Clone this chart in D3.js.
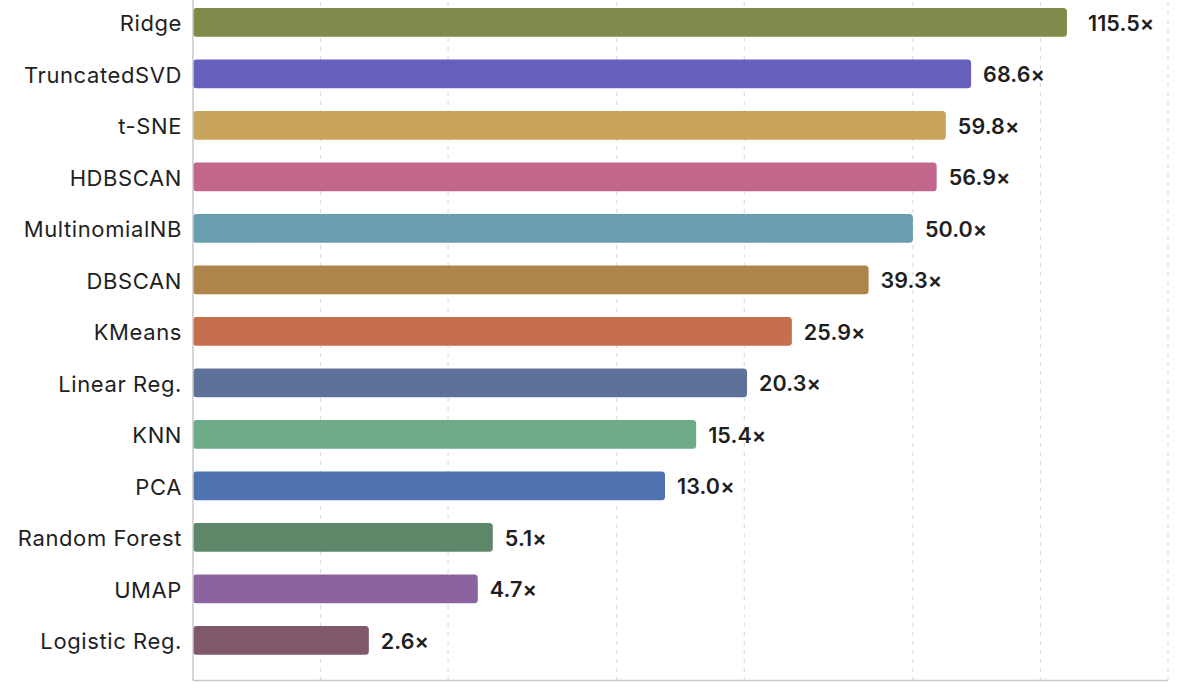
<!DOCTYPE html>
<html><head><meta charset="utf-8">
<script src="https://cdn.jsdelivr.net/npm/d3@7"></script>
<style>body{margin:0;background:#fff}svg{display:block}text{font-family:Inter,"Noto Sans",sans-serif}</style>
</head><body><svg id="c" width="1200" height="694"></svg>
<script>
const categories = ["Ridge","TruncatedSVD","t-SNE","HDBSCAN","MultinomialNB","DBSCAN","KMeans","Linear Reg.","KNN","PCA","Random Forest","UMAP","Logistic Reg."];
const speedups = [115.5,68.6,59.8,56.9,50.0,39.3,25.9,20.3,15.4,13.0,5.1,4.7,2.6];
const colors = ["#7f8a4b","#665fbe","#c8a45d","#c2678b","#6a9eae","#ad8449","#c76e4c","#5e7199","#6eab88","#4f73b1","#5e876a","#8b639e","#805869"];
const gridTicks = [1,2,4,10,20,50,100,200];

const svg = d3.select("#c");
const left = 193, right = 1168, bottom = 680.5;
const x = d3.scaleLog().domain([1,200]).range([left,right]);
const y = d3.scaleBand().domain(categories).range([-14.7,677.5]).paddingInner(0.44).paddingOuter(0.44);

svg.append("g").selectAll("line").data(gridTicks.slice(1)).join("line")
  .attr("x1",d=>x(d)).attr("x2",d=>x(d)).attr("y1",2).attr("y2",bottom)
  .attr("stroke","#dcdcdc").attr("stroke-width",1.2).attr("stroke-dasharray","4,5");

svg.append("g").selectAll("rect").data(categories).join("rect")
  .attr("x",left).attr("y",d=>y(d)).attr("height",y.bandwidth())
  .attr("width",(d,i)=>x(speedups[i])-left).attr("rx",3.5)
  .attr("fill",(d,i)=>colors[i]);

svg.append("line").attr("x1",left).attr("x2",left).attr("y1",0).attr("y2",bottom).attr("stroke","#c8c8c8").attr("stroke-width",1.5);
svg.append("line").attr("x1",left).attr("x2",right).attr("y1",bottom).attr("y2",bottom).attr("stroke","#c8c8c8").attr("stroke-width",1.5);

svg.append("g").selectAll("text").data(categories).join("text")
  .attr("x",182).attr("y",d=>y(d)+y.bandwidth()/2+1).attr("dy","0.35em")
  .attr("text-anchor","end").attr("font-size",22).attr("letter-spacing","0.6px").attr("fill","#1f1f1f").text(d=>d);

svg.append("g").selectAll("text").data(categories).join("text")
  .attr("x",(d,i)=>x(speedups[i])+(i===0?21:12)).attr("y",d=>y(d)+y.bandwidth()/2+1).attr("dy","0.35em")
  .attr("font-size",21.5).attr("font-weight",600).attr("letter-spacing","0.1px").attr("fill","#1f1f1f")
  .text((d,i)=>speedups[i].toFixed(1)+"×");
</script></body></html>
